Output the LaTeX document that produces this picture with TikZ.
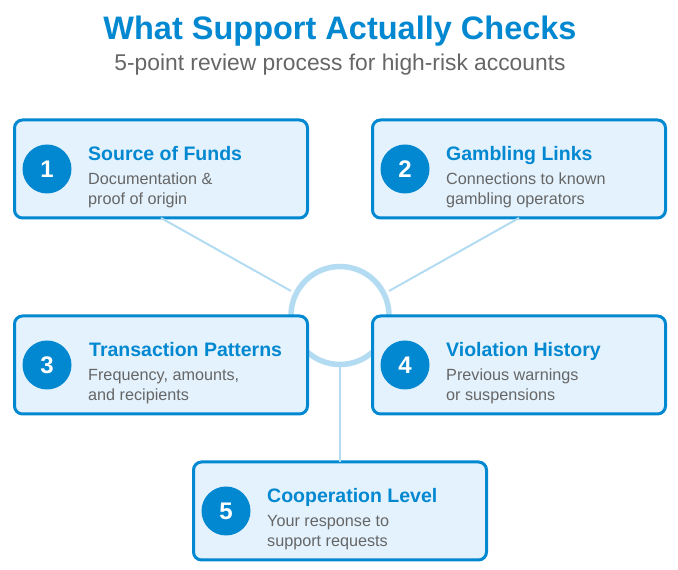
\documentclass[tikz,border=0pt]{standalone}
\usepackage{fontspec}
\setmainfont{Liberation Sans}
\usetikzlibrary{positioning}
\definecolor{mainblue}{HTML}{0288D1}
\definecolor{cardfill}{HTML}{E3F2FD}
\definecolor{textgrey}{HTML}{666666}
\definecolor{linkblue}{HTML}{B3DBF1}
\begin{document}
\begin{tikzpicture}[
    x=1pt, y=1pt,
    card/.style={draw=mainblue, fill=cardfill, line width=3pt, rounded corners=8pt, minimum width=293pt, minimum height=98pt, inner sep=0pt, outer sep=0pt},
    badge/.style={circle, fill=mainblue, text=white, font=\fontsize{24}{24}\selectfont\bfseries, minimum size=49pt, inner sep=0pt},
    cardtitle/.style={anchor=base west, inner sep=0pt, text=mainblue, font=\fontsize{19.5}{20}\selectfont\bfseries},
    carddesc/.style={anchor=base west, inner sep=0pt, text=textgrey, font=\fontsize{16.2}{16}\selectfont},
    link/.style={draw=linkblue, line width=2pt},
    hubring/.style={circle, draw=linkblue, line width=5.5pt, minimum size=98pt, inner sep=0pt, outer sep=0pt}
]
\useasboundingbox (0,0) rectangle (678,570);

% Titel
\node[anchor=base, inner sep=0pt, text=mainblue, font=\fontsize{32.5}{32}\selectfont\bfseries] (heading) at (340,530) {What Support Actually Checks};
\node[anchor=base, inner sep=0pt, text=textgrey, font=\fontsize{22.8}{24}\selectfont] (subheading) at (340,499) {5-point review process for high-risk accounts};

% Ring in der Mitte
\node[hubring] (hub) at (340,254.5) {};
\coordinate (hubleft) at (291,279);
\coordinate (hubright) at (389,279);

% Karten
\node[card] (card1) at (161,401) {};
\node[card] (card2) at (519,401) {};
\node[card] (card3) at (161,205) {};
\node[card] (card4) at (519,205) {};
\node[card] (card5) at (340,59) {};

% Linien
\draw[link] (card1.south) -- (hubleft);
\draw[link] (card2.south) -- (hubright);
\draw[link] (hub.south) -- (card5.north);

% Nummern
\node[badge] (badge1) at ([xshift=-114pt]card1.center) {1};
\node[badge] (badge2) at ([xshift=-114pt]card2.center) {2};
\node[badge] (badge3) at ([xshift=-114pt]card3.center) {3};
\node[badge] (badge4) at ([xshift=-114pt]card4.center) {4};
\node[badge] (badge5) at ([xshift=-114pt]card5.center) {5};

% Texte
\node[cardtitle] (title1) at ([xshift=-73pt,yshift=8pt]card1.center) {Source of Funds};
\node[carddesc] (desc1a) at ([xshift=-73pt,yshift=-16pt]card1.center) {Documentation \&};
\node[carddesc] (desc1b) at ([xshift=-73pt,yshift=-36pt]card1.center) {proof of origin};

\node[cardtitle] (title2) at ([xshift=-73pt,yshift=8pt]card2.center) {Gambling Links};
\node[carddesc] (desc2a) at ([xshift=-73pt,yshift=-16pt]card2.center) {Connections to known};
\node[carddesc] (desc2b) at ([xshift=-73pt,yshift=-36pt]card2.center) {gambling operators};

\node[cardtitle] (title3) at ([xshift=-72pt,yshift=8pt]card3.center) {Transaction Patterns};
\node[carddesc] (desc3a) at ([xshift=-73pt,yshift=-16pt]card3.center) {Frequency, amounts,};
\node[carddesc] (desc3b) at ([xshift=-73pt,yshift=-36pt]card3.center) {and recipients};

\node[cardtitle] (title4) at ([xshift=-73pt,yshift=8pt]card4.center) {Violation History};
\node[carddesc] (desc4a) at ([xshift=-73pt,yshift=-16pt]card4.center) {Previous warnings};
\node[carddesc] (desc4b) at ([xshift=-73pt,yshift=-36pt]card4.center) {or suspensions};

\node[cardtitle] (title5) at ([xshift=-73pt,yshift=8pt]card5.center) {Cooperation Level};
\node[carddesc] (desc5a) at ([xshift=-73pt,yshift=-16pt]card5.center) {Your response to};
\node[carddesc] (desc5b) at ([xshift=-73pt,yshift=-36pt]card5.center) {support requests};

\end{tikzpicture}
\end{document}
